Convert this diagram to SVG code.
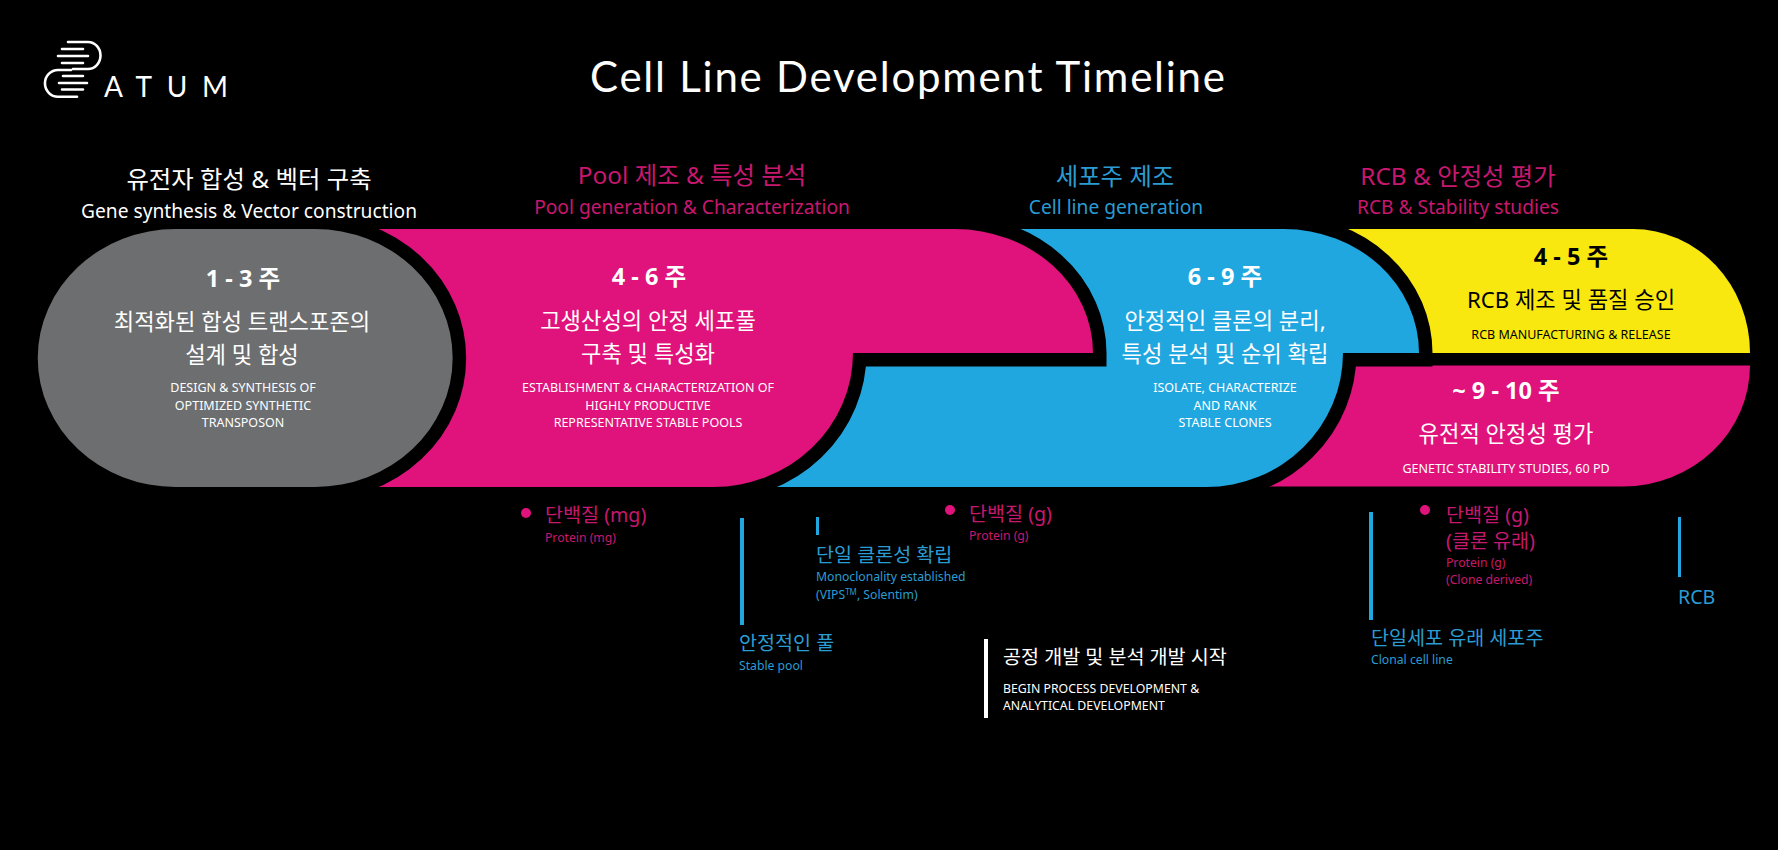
<svg xmlns="http://www.w3.org/2000/svg" width="1778" height="850" viewBox="0 0 1778 850">
<style>
text{font-family:"Noto Sans","Noto Sans CJK KR",sans-serif}
.c{text-anchor:middle}
.w{fill:#fff}.k{fill:#000}.p{fill:#c7186f}.b{fill:#2b9cd3}
.h{font-size:24.400px}.s{font-size:19.200px}
.wk{font-size:23.500px;font-weight:700}
.t{font-size:22.200px}
.m{font-size:12.500px}
.a{font-size:19.600px}.n{font-size:12.200px}
.shape{stroke:#000;stroke-width:27;paint-order:stroke;stroke-linejoin:miter}
.plain{stroke:none}
.logo{fill:none;stroke:#fff;stroke-width:2.6;stroke-linecap:round}
.bar{fill:#21a7df}
.dot{fill:#e0127b}
</style>
<rect width="1778" height="850" fill="#000"/>
<g id="logo">
<path class="logo" d="M68,42H88A12.500,13.500 0 0 1 88,69H73M62,49H83M58,56H88M62,63H83M71,70H58A13,13.300 0 0 0 58,96.700H77M63,76H83M59,83H87M62,89.500H83"/>
<text x="104" y="97" textLength="124" lengthAdjust="spacing" style="font-family:Lato,sans-serif;font-size:28px" class="w">ATUM</text>
</g>
<text id="title" x="590" y="92" textLength="635" lengthAdjust="spacing" style="font-family:Lato,sans-serif;font-size:42px" class="w">Cell Line Development Timeline</text>

<g id="node-rcb">
<path class="plain" fill="#f8e80f" d="M1280,229H1633A117,124 0 0 1 1750,353H1280Z"/>
<text class="c wk k" x="1571" y="265">4 - 5 주</text>
<text class="c t k" x="1571" y="308">RCB 제조 및 품질 승인</text>
<text class="c m k" x="1571" y="339">RCB MANUFACTURING &amp; RELEASE</text>
</g>
<g id="node-stability">
<path class="plain" fill="#e0127b" d="M1250,365.500H1750A127,121 0 0 1 1623,486.500H1250Z"/>
<text class="c wk w" x="1506" y="399">~ 9 - 10 주</text>
<text class="c t w" x="1506" y="442">유전적 안정성 평가</text>
<text class="c m w" x="1506" y="473">GENETIC STABILITY STUDIES, 60 PD</text>
</g>
<g id="node-cell-line">
<path class="shape" fill="#21a7df" d="M900,229H1284A135,124 0 0 1 1419,353H1343A137,134 0 0 1 1206,487H700Z"/>
<text class="c wk w" x="1225" y="285">6 - 9 주</text>
<text class="c t w" x="1225" y="329">안정적인 클론의 분리,</text>
<text class="c t w" x="1225" y="362">특성 분석 및 순위 확립</text>
<text class="c m w" x="1225" y="392">ISOLATE, CHARACTERIZE</text>
<text class="c m w" x="1225" y="410">AND RANK</text>
<text class="c m w" x="1225" y="427">STABLE CLONES</text>
</g>
<g id="node-pool">
<path class="shape" fill="#e0127b" d="M300,229H955A138,124 0 0 1 1093,353H853A140,134 0 0 1 713,487H300Z"/>
<text class="c wk w" x="649" y="285">4 - 6 주</text>
<text class="c t w" x="648" y="329">고생산성의 안정 세포풀</text>
<text class="c t w" x="648" y="362">구축 및 특성화</text>
<text class="c m w" x="648" y="392">ESTABLISHMENT &amp; CHARACTERIZATION OF</text>
<text class="c m w" x="648" y="410">HIGHLY PRODUCTIVE</text>
<text class="c m w" x="648" y="427">REPRESENTATIVE STABLE POOLS</text>
</g>
<g id="node-gene">
<path class="shape" fill="#6d6e70" d="M175.700,229H314.700A138,129 0 0 1 314.700,487H175.700A138,129 0 0 1 175.700,229Z"/>
<text class="c wk w" x="243" y="287">1 - 3 주</text>
<text class="c t w" x="242" y="330">최적화된 합성 트랜스포존의</text>
<text class="c t w" x="242" y="363">설계 및 합성</text>
<text class="c m w" x="243" y="392">DESIGN &amp; SYNTHESIS OF</text>
<text class="c m w" x="243" y="410">OPTIMIZED SYNTHETIC</text>
<text class="c m w" x="243" y="427">TRANSPOSON</text>
</g>

<g id="headings">
<text class="c h w" x="249" y="188">유전자 합성 &amp; 벡터 구축</text>
<text class="c s w" x="249" y="218">Gene synthesis &amp; Vector construction</text>
<text class="c h p" x="692" y="184">Pool 제조 &amp; 특성 분석</text>
<text class="c s p" x="692" y="214">Pool generation &amp; Characterization</text>
<text class="c h b" x="1115" y="185">세포주 제조</text>
<text class="c s b" x="1116" y="214">Cell line generation</text>
<text class="c h p" x="1458" y="185">RCB &amp; 안정성 평가</text>
<text class="c s p" x="1458" y="214">RCB &amp; Stability studies</text>
</g>

<g id="connectors">
<rect class="bar" x="740" y="518" width="4" height="107"/>
<rect class="bar" x="816" y="517" width="3" height="18"/>
<rect x="984" y="639" width="4" height="79" fill="#fff"/>
<rect class="bar" x="1369" y="512" width="4" height="108"/>
<rect class="bar" x="1678" y="517" width="3" height="60"/>
</g>

<g id="note-protein-mg">
<circle class="dot" cx="526" cy="513" r="5"/>
<text class="a p" x="545" y="522">단백질 (mg)</text>
<text class="n p" x="545" y="542">Protein (mg)</text>
</g>
<g id="note-stable-pool">
<text class="a b" x="739" y="650">안정적인 풀</text>
<text class="n b" x="739" y="670">Stable pool</text>
</g>
<g id="note-monoclonality">
<text class="a b" x="816" y="562">단일 클론성 확립</text>
<text class="n b" x="816" y="581">Monoclonality established</text>
<text class="n b" x="816" y="599">(VIPS<tspan dy="-4" font-size="8">TM</tspan><tspan dy="4">, Solentim)</tspan></text>
</g>
<g id="note-protein-g">
<circle class="dot" cx="950" cy="510" r="5"/>
<text class="a p" x="969" y="521">단백질 (g)</text>
<text class="n p" x="969" y="540">Protein (g)</text>
</g>
<g id="note-process">
<text class="a w" x="1003" y="664">공정 개발 및 분석 개발 시작</text>
<text class="w" x="1003" y="693" style="font-size:12.300px">BEGIN PROCESS DEVELOPMENT &amp;</text>
<text class="w" x="1003" y="710" style="font-size:12.300px">ANALYTICAL DEVELOPMENT</text>
</g>
<g id="note-clonal">
<text class="a b" x="1371" y="645">단일세포 유래 세포주</text>
<text class="n b" x="1371" y="664">Clonal cell line</text>
</g>
<g id="note-protein-clone">
<circle class="dot" cx="1425" cy="510" r="5"/>
<text class="a p" x="1446" y="522">단백질 (g)</text>
<text class="a p" x="1446" y="548">(클론 유래)</text>
<text class="n p" x="1446" y="567">Protein (g)</text>
<text class="n p" x="1446" y="584">(Clone derived)</text>
</g>
<g id="note-rcb">
<text class="a b" x="1678" y="604">RCB</text>
</g>
</svg>
